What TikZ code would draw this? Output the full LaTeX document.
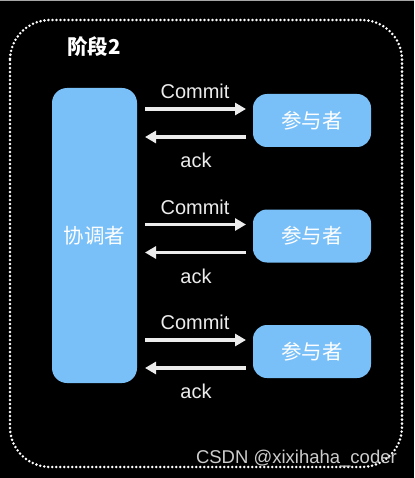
\documentclass[tikz,border=0pt]{standalone}
\usepackage{fontspec}
\setmainfont{Liberation Sans}
\newfontfamily\cjk{Noto Sans CJK SC}
\usetikzlibrary{arrows.meta}
\definecolor{boxblue}{RGB}{122,192,248}
\definecolor{arrowgray}{RGB}{236,236,236}
\definecolor{wmgray}{RGB}{205,205,205}
\tikzset{
  coordbox/.style={fill=boxblue, rounded corners=15pt, inner sep=0pt, text=white, font=\cjk\fontsize{20.5}{23}\selectfont},
  partbox/.style={fill=boxblue, rounded corners=14pt, minimum width=118pt, minimum height=53pt, inner sep=0pt, text=white, font=\cjk\fontsize{20.5}{23}\selectfont},
  msg/.style={draw=arrowgray, line width=3.2pt, -{Triangle[length=11pt,width=12pt]}},
  lbl/.style={text=arrowgray, font=\fontsize{20}{22}\selectfont, inner sep=0pt},
}
\begin{document}
\begin{tikzpicture}[x=1pt,y=-1pt]
\fill[black] (0,0) rectangle (414,478);
\useasboundingbox (0,0) rectangle (414,478);
\fill[gray!70] (0,0) rectangle (414,1.5);
\draw[white, line width=2.8pt, dash pattern=on 0pt off 4pt, line cap=round, rounded corners=40pt] (10,20) rectangle (402,467);
\node[text=white, font=\cjk\bfseries\fontsize{20.5}{24}\selectfont, anchor=west, inner sep=0pt] (title) at (67,47) {阶段2};
\node[coordbox, minimum width=85pt, minimum height=295pt] (c) at (94.5,235.5) {协调者};
\foreach \i/\y in {1/120.5, 2/236, 3/351.5}{
  \node[partbox] (p\i) at (312,\y) {参与者};
  \coordinate (cs\i) at (145,\y-11.5);
  \coordinate (ce\i) at (246,\y-11.5);
  \coordinate (as\i) at (246,\y+16.5);
  \coordinate (ae\i) at (145,\y+16.5);
  \draw[msg] (cs\i) -- (ce\i);
  \draw[msg] (as\i) -- (ae\i);
  \node[lbl] (cl\i) at (195,\y-29) {Commit};
  \node[lbl] (al\i) at (196,\y+40) {ack};
}
\node[text=wmgray, font=\fontsize{18.5}{20}\selectfont, anchor=east, inner sep=0pt] (wm) at (397,459) {CSDN @xixihaha\_coder};
\end{tikzpicture}
\end{document}
